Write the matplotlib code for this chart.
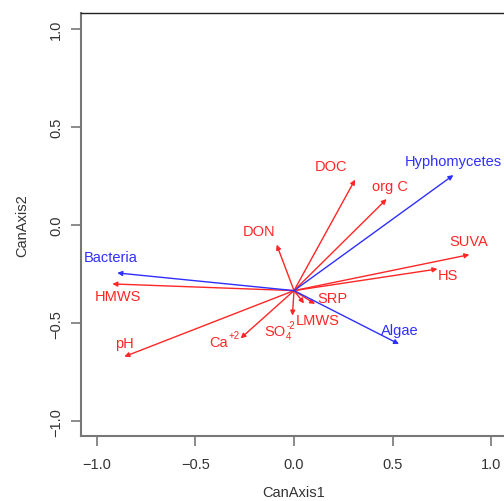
import numpy as np
import matplotlib
matplotlib.use("Agg")
from matplotlib import pyplot as plt

plt.rcParams['font.family'] = ['Liberation Sans', 'DejaVu Sans']

# biplot origin (arrows start here)
origin = (0.0, -0.334)

# environmental vectors (red): name, tip x, tip y, label x, label y
env_names = ['DOC', 'org C', 'SUVA', 'HS', 'DON', 'HMWS', 'pH',
             'Ca', 'SO', 'LMWS', 'SRP']
env_sup = ['', '', '', '', '', '', '', '+2', '-2', '', '']
env_sub = ['', '', '', '', '', '', '', '', '4', '', '']
env_x = [0.310, 0.470, 0.890, 0.728, -0.088, -0.922, -0.861, -0.271, -0.008, 0.051, 0.107]
env_y = [0.231, 0.132, -0.151, -0.224, -0.100, -0.300, -0.670, -0.577, -0.461, -0.399, -0.402]
env_lx = [0.188, 0.487, 0.885, 0.783, -0.176, -0.892, -0.863, -0.381, -0.097, 0.118, 0.196]
env_ly = [0.302, 0.197, -0.080, -0.254, -0.032, -0.360, -0.602, -0.594, -0.539, -0.482, -0.373]

# taxa vectors (blue)
tax_names = ['Hyphomycetes', 'Bacteria', 'Algae']
tax_x = [0.809, -0.897, 0.533]
tax_y = [0.254, -0.244, -0.606]
tax_lx = [0.810, -0.929, 0.538]
tax_ly = [0.326, -0.161, -0.534]

red = '#ff2626'
blue = '#2f2fff'

fig = plt.figure(figsize=(5.04, 5.02), dpi=100)
# right edge of the box falls just outside the picture
ax = fig.add_axes([81 / 504, 1 - 437 / 502, (507 - 81) / 504, (437 - 14) / 502])
ax.set_xlim(-1.081, 1.081)
ax.set_ylim(-1.074, 1.079)
renderer = fig.canvas.get_renderer()


def arrow(x, y, c):
    ax.annotate('', xy=(x, y), xytext=origin,
                arrowprops=dict(arrowstyle='-|>', color=c, lw=1.0,
                                mutation_scale=7, shrinkA=0, shrinkB=0))


for x, y, lx, ly, n, sp, sb in zip(env_x, env_y, env_lx, env_ly, env_names, env_sup, env_sub):
    arrow(x, y, red)
    t = ax.text(lx, ly, n, color=red, fontsize=10.5, ha='center', va='center')
    if sp or sb:
        w = t.get_window_extent(renderer).width * 72 / 100
        if sb:
            ax.annotate(sb, (lx, ly), xytext=(w / 2 + 0.3, -4), textcoords='offset points',
                        color=red, fontsize=7, ha='left', va='center')
        if sp:
            ax.annotate(sp, (lx, ly), xytext=(w / 2 + (1.0 if sb else 0.5), 4.5),
                        textcoords='offset points', color=red, fontsize=7,
                        ha='left', va='center')

for x, y, lx, ly, n in zip(tax_x, tax_y, tax_lx, tax_ly, tax_names):
    arrow(x, y, blue)
    ax.text(lx, ly, n, color=blue, fontsize=10.5, ha='center', va='center')

ax.set_xticks([-1.0, -0.5, 0.0, 0.5, 1.0])
ax.set_yticks([-1.0, -0.5, 0.0, 0.5, 1.0])
ax.set_xticklabels(['\u22121.0', '\u22120.5', '0.0', '0.5', '1.0'])
ax.set_yticklabels(['\u22121.0', '\u22120.5', '0.0', '0.5', '1.0'], rotation=90, va='center')
ax.tick_params(direction='out', length=7, width=1.2, color='#777777',
               labelsize=10.5, labelcolor='#333333', pad=8)
ax.tick_params(axis='y', pad=6)

ax.spines['top'].set_color('#222222')
ax.spines['top'].set_linewidth(1.0)
ax.spines['right'].set_color('#222222')
for s in ['left', 'bottom']:
    ax.spines[s].set_color('#777777')
    ax.spines[s].set_linewidth(1.5)

ax.set_xlabel('CanAxis1', fontsize=10.5, color='#333333', labelpad=10)
ax.set_ylabel('CanAxis2', fontsize=10.5, color='#333333', labelpad=14)

fig.savefig('out.png', dpi=100)
